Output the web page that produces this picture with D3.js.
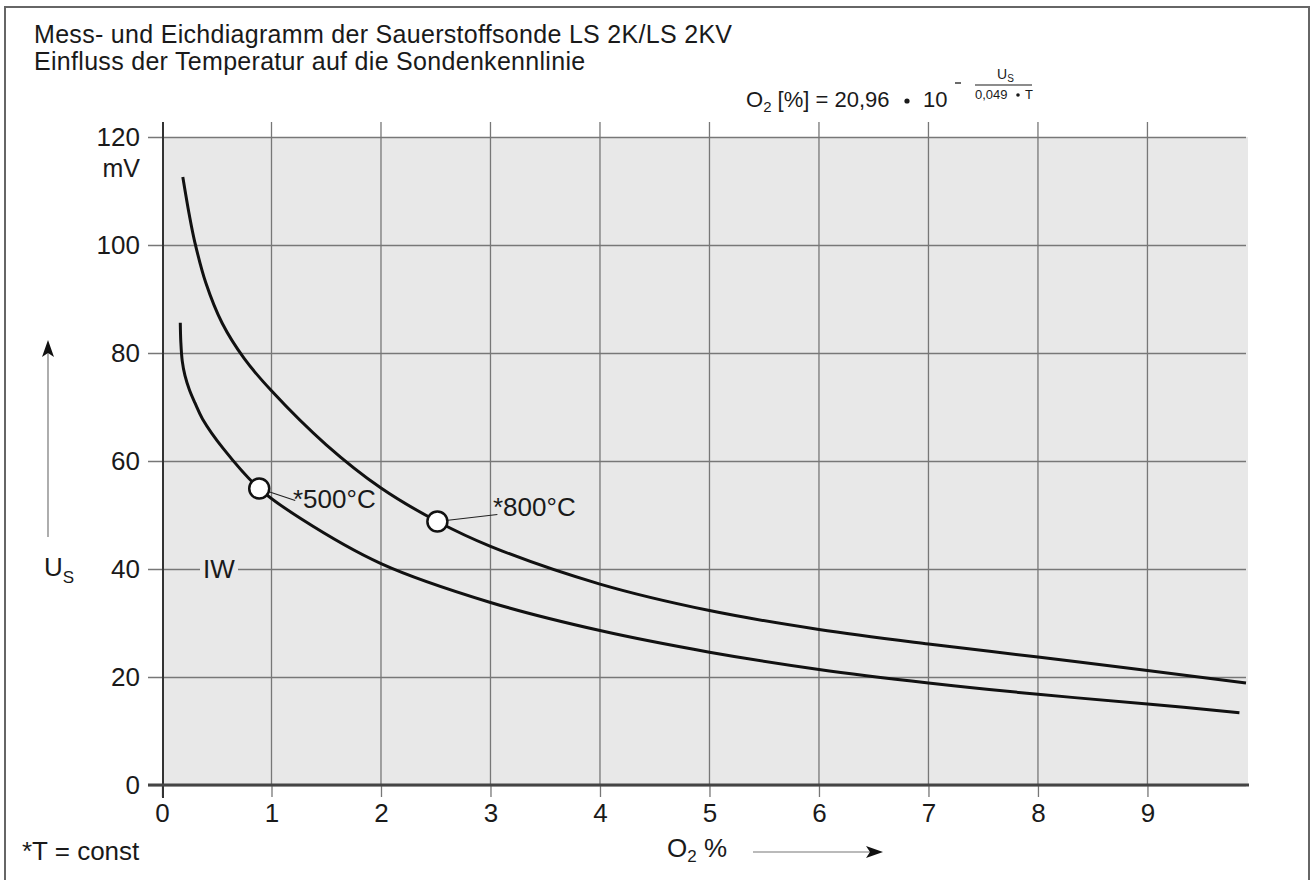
<!DOCTYPE html>
<html>
<head>
<meta charset="utf-8">
<script src="https://cdn.jsdelivr.net/npm/d3@7"></script>
<style>
  body { margin: 0; background: #fff; }
  svg { display: block; font-family: "Liberation Sans", Arial, sans-serif; }
</style>
</head>
<body>
<div id="chart"></div>
<script>
(function() {
  var width = 1316, height = 880;

  // data
  var xTicks = [0, 1, 2, 3, 4, 5, 6, 7, 8, 9];
  var yTicks = [0, 20, 40, 60, 80, 100, 120];

  var o2_800 = [0.19, 0.25, 0.30, 0.40, 0.55, 0.75, 1.0, 1.5, 2.0, 2.515, 3.0, 4, 5, 6, 7, 8, 9, 9.9];
  var us_800 = [112.6, 105.5, 100.5, 93, 85.5, 79, 73, 63, 55, 48.8, 44.2, 37.2, 32.3, 28.8, 26.1, 23.7, 21.2, 18.9];

  var o2_500 = [0.167, 0.172, 0.185, 0.21, 0.25, 0.30, 0.37, 0.56, 0.888, 1.27, 2.0, 3, 4, 5, 6, 7, 8, 9, 9.84];
  var us_500 = [85.6, 82, 78.5, 75.8, 73.2, 70.8, 67.8, 62.3, 54.9, 49.3, 41.0, 33.8, 28.6, 24.6, 21.4, 18.9, 16.8, 15.0, 13.4];

  var markerO2 = [0.888, 2.515];
  var markerUs = [54.9, 48.8];
  var markerLabels = ['*500°C', '*800°C'];

  var x = d3.scaleLinear().domain([0, 9.9]).range([162, 1246]);
  var y = d3.scaleLinear().domain([0, 120]).range([785, 137]);

  var svg = d3.select('#chart').append('svg')
    .attr('width', width)
    .attr('height', height);

  // outer frame
  svg.append('rect')
    .attr('x', 5).attr('y', 7)
    .attr('width', 1304).attr('height', 890)
    .attr('fill', 'none').attr('stroke', '#666').attr('stroke-width', 2);

  // titles
  svg.append('text').attr('x', 34).attr('y', 43)
    .attr('font-size', 25).attr('letter-spacing', 0.3).attr('fill', '#1a1a1a')
    .text('Mess- und Eichdiagramm der Sauerstoffsonde LS 2K/LS 2KV');
  svg.append('text').attr('x', 34).attr('y', 70)
    .attr('font-size', 25).attr('letter-spacing', 0.3).attr('fill', '#1a1a1a')
    .text('Einfluss der Temperatur auf die Sondenkennlinie');

  // formula
  var f = svg.append('text').attr('x', 746).attr('y', 107)
    .attr('font-size', 22).attr('fill', '#1a1a1a');
  f.append('tspan').text('O');
  f.append('tspan').attr('font-size', 15).attr('dy', 5).text('2');
  f.append('tspan').attr('dy', -5).text(' [%] = 20,96');
  svg.append('circle').attr('cx', 907).attr('cy', 101).attr('r', 2.6).attr('fill', '#1a1a1a');
  svg.append('text').attr('x', 923).attr('y', 107)
    .attr('font-size', 22).attr('fill', '#1a1a1a').text('10');
  svg.append('line')
    .attr('x1', 955).attr('x2', 961).attr('y1', 83).attr('y2', 83)
    .attr('stroke', '#1a1a1a').attr('stroke-width', 1.3);
  var fu = svg.append('text').attr('x', 997).attr('y', 79)
    .attr('font-size', 14).attr('fill', '#1a1a1a');
  fu.append('tspan').text('U');
  fu.append('tspan').attr('font-size', 10).attr('dy', 3).text('S');
  svg.append('line')
    .attr('x1', 975).attr('x2', 1032).attr('y1', 85).attr('y2', 85)
    .attr('stroke', '#1a1a1a').attr('stroke-width', 1.2);
  svg.append('text').attr('x', 975).attr('y', 99)
    .attr('font-size', 13).attr('fill', '#1a1a1a').text('0,049');
  svg.append('circle').attr('cx', 1018).attr('cy', 95).attr('r', 1.8).attr('fill', '#1a1a1a');
  svg.append('text').attr('x', 1025).attr('y', 99)
    .attr('font-size', 13).attr('fill', '#1a1a1a').text('T');

  // plot background
  svg.append('rect')
    .attr('x', 163).attr('y', y(120))
    .attr('width', 1248 - 163).attr('height', y(0) - y(120))
    .attr('fill', '#e8e8e8');

  // y axis with gridlines
  var yAxis = svg.append('g')
    .attr('transform', 'translate(148,0)')
    .call(d3.axisLeft(y).tickValues(yTicks).tickSize(-(1246 - 148)).tickPadding(8));
  yAxis.select('.domain').remove();
  yAxis.selectAll('line').attr('stroke', '#777').attr('stroke-width', 1.3);
  yAxis.selectAll('text').attr('font-size', 26).attr('fill', '#1a1a1a')
    .attr('font-family', '"Liberation Sans", Arial, sans-serif');

  // vertical gridlines
  svg.selectAll('line.vgrid').data(xTicks.slice(1)).enter().append('line')
    .attr('class', 'vgrid')
    .attr('x1', function(d) { return x(d); })
    .attr('x2', function(d) { return x(d); })
    .attr('y1', 122).attr('y2', y(0))
    .attr('stroke', '#777').attr('stroke-width', 1.3);

  // x axis
  var xAxis = svg.append('g')
    .attr('transform', 'translate(0,' + y(0) + ')')
    .call(d3.axisBottom(x).tickValues(xTicks).tickSize(12).tickPadding(7));
  xAxis.select('.domain').remove();
  xAxis.selectAll('line').attr('stroke', '#777').attr('stroke-width', 1.3);
  xAxis.selectAll('text').attr('font-size', 26).attr('fill', '#1a1a1a')
    .attr('font-family', '"Liberation Sans", Arial, sans-serif');

  // axis lines
  svg.append('line')
    .attr('x1', 163).attr('x2', 163).attr('y1', 122).attr('y2', 798)
    .attr('stroke', '#333').attr('stroke-width', 2);
  svg.append('line')
    .attr('x1', 148).attr('x2', 1249).attr('y1', y(0)).attr('y2', y(0))
    .attr('stroke', '#444').attr('stroke-width', 3);

  // unit and axis labels
  svg.append('text').attr('x', 140).attr('y', 177).attr('text-anchor', 'end')
    .attr('font-size', 25).attr('fill', '#1a1a1a').text('mV');

  var us = svg.append('text').attr('x', 44).attr('y', 576)
    .attr('font-size', 26).attr('fill', '#1a1a1a');
  us.append('tspan').text('U');
  us.append('tspan').attr('font-size', 17).attr('dy', 7).text('S');

  svg.append('line')
    .attr('x1', 48).attr('x2', 48).attr('y1', 537).attr('y2', 350)
    .attr('stroke', '#777').attr('stroke-width', 1.2);
  svg.append('path')
    .attr('d', 'M48,340 L42,357 L48,353 L54,357 Z')
    .attr('fill', '#111');

  var xl = svg.append('text').attr('x', 667).attr('y', 857)
    .attr('font-size', 26).attr('fill', '#1a1a1a');
  xl.append('tspan').text('O');
  xl.append('tspan').attr('font-size', 17).attr('dy', 5).text('2');
  xl.append('tspan').attr('dy', -5).text(' %');

  svg.append('line')
    .attr('x1', 753).attr('x2', 872).attr('y1', 852).attr('y2', 852)
    .attr('stroke', '#777').attr('stroke-width', 1.2);
  svg.append('path')
    .attr('d', 'M883,852 L866,846 L870,852 L866,858 Z')
    .attr('fill', '#111');

  svg.append('text').attr('x', 22).attr('y', 860)
    .attr('font-size', 26).attr('fill', '#1a1a1a').text('*T = const');

  // IW label over the 40 gridline
  svg.append('rect')
    .attr('x', 200).attr('y', y(40) - 13).attr('width', 38).attr('height', 26)
    .attr('fill', '#e8e8e8');
  svg.append('text').attr('x', 203).attr('y', y(40) + 9)
    .attr('font-size', 26).attr('fill', '#1a1a1a').text('IW');

  // curves
  var line = d3.line()
    .x(function(d) { return x(d[0]); })
    .y(function(d) { return y(d[1]); })
    .curve(d3.curveCatmullRom.alpha(0.5));

  var curves = [d3.zip(o2_800, us_800), d3.zip(o2_500, us_500)];
  svg.selectAll('path.curve').data(curves).enter().append('path')
    .attr('class', 'curve')
    .attr('d', line)
    .attr('fill', 'none')
    .attr('stroke', '#111')
    .attr('stroke-width', 3);

  // markers with leader lines
  var lead = [[36, 12, 293, 508], [60, -7, 493, 516]];
  markerO2.forEach(function(o, i) {
    var cx = x(o), cy = y(markerUs[i]);
    svg.append('line')
      .attr('x1', cx).attr('y1', cy)
      .attr('x2', cx + lead[i][0]).attr('y2', cy + lead[i][1])
      .attr('stroke', '#222').attr('stroke-width', 1.2);
    svg.append('circle')
      .attr('cx', cx).attr('cy', cy).attr('r', 10)
      .attr('fill', '#fff').attr('stroke', '#111').attr('stroke-width', 2.5);
    svg.append('text').attr('x', lead[i][2]).attr('y', lead[i][3])
      .attr('font-size', 26).attr('fill', '#1a1a1a').text(markerLabels[i]);
  });
}).call(this);
</script>
</body>
</html>
